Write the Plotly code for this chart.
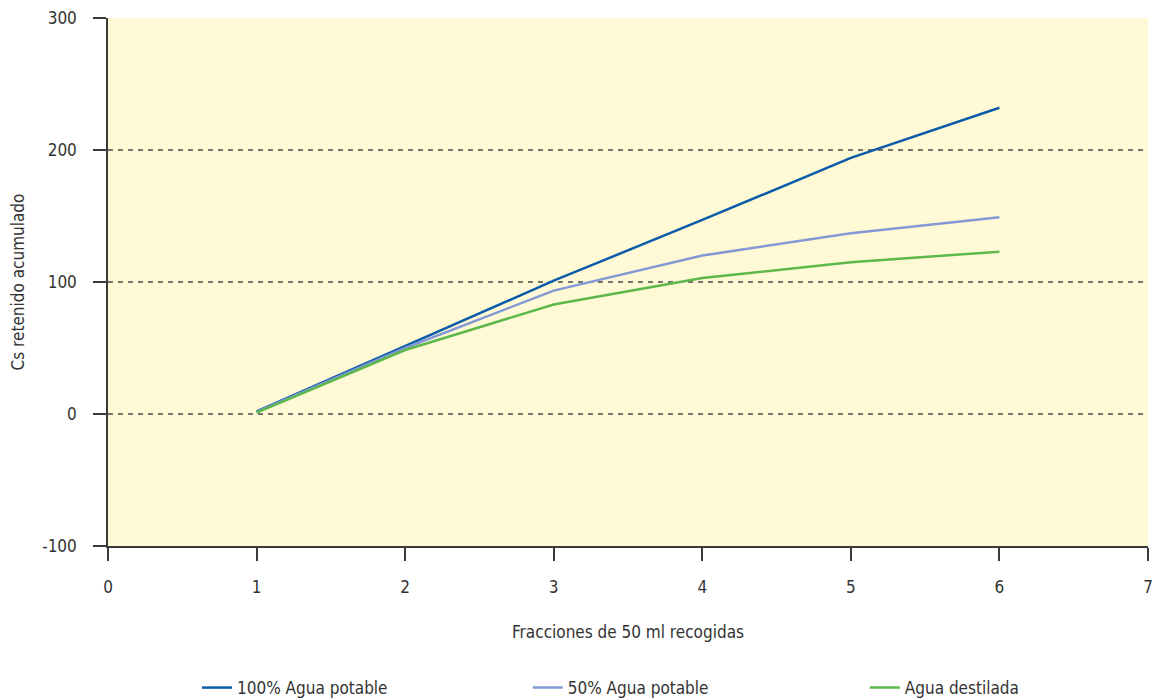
import plotly.graph_objects as go

fracciones = [1, 2, 3, 4, 5, 6]
agua_100 = [2, 51.5, 101, 147, 194, 232]
agua_50 = [1.5, 50, 93.5, 120, 137, 149]
agua_dest = [1, 48.5, 83, 103, 115, 123]

series_names = ["100% Agua potable", "50% Agua potable", "Agua destilada"]
series_colors = ["#0b5ca8", "#8299d4", "#5cb84a"]

y_ticks = [-100, 0, 100, 200, 300]
y_tick_text = ["-100", "0", "100", "200", "300"]
x_ticks = [0, 1, 2, 3, 4, 5, 6, 7]
grid_values = [0, 100, 200]

FONT = "DejaVu Sans Condensed, Liberation Sans Narrow, Arial Narrow, sans-serif"
AXC = "#3a3a3a"
TXT = "#333333"

legend_ids = ["legend", "legend2", "legend3"]
legend_x = [0.0856, 0.4036, 0.7277]

fig = go.Figure()
for name, vals, col, lid in zip(series_names, [agua_100, agua_50, agua_dest], series_colors, legend_ids):
    fig.add_trace(go.Scatter(x=fracciones, y=vals, mode="lines", name=name,
                             line=dict(color=col, width=2.5), legend=lid))

for g in grid_values:
    fig.add_shape(type="line", xref="paper", x0=0, x1=1, yref="y", y0=g, y1=g,
                  line=dict(color="#4a4a4a", width=1.4, dash="5px,5px"), layer="below")

leg_common = dict(orientation="h", xanchor="left", y=-0.269, yanchor="middle",
                  bgcolor="rgba(0,0,0,0)", font=dict(family=FONT, size=17, color=TXT))

fig.update_layout(
    width=1155, height=692,
    margin=dict(l=100, r=15, t=10, b=154, autoexpand=False),
    paper_bgcolor="white",
    plot_bgcolor="#fff9d6",
    font=dict(family=FONT, size=17, color=TXT),
    showlegend=True,
    legend=dict(x=legend_x[0], **leg_common),
    legend2=dict(x=legend_x[1], **leg_common),
    legend3=dict(x=legend_x[2], **leg_common),
    xaxis=dict(range=[0, 7], tickvals=x_ticks, showgrid=False, zeroline=False,
               showline=True, linecolor=AXC, linewidth=1.5, automargin=False,
               ticks="outside", ticklen=13, tickwidth=1.5, tickcolor=AXC,
               ticklabelstandoff=12, ticklabeloverflow="allow",
               title=dict(text="Fracciones de 50 ml recogidas", standoff=30,
                          font=dict(family=FONT, size=17))),
    yaxis=dict(range=[-100, 300], tickvals=y_ticks, ticktext=y_tick_text,
               showgrid=False, zeroline=False, automargin=False,
               showline=True, linecolor=AXC, linewidth=1.5,
               ticks="outside", ticklen=13, tickwidth=1.5, tickcolor=AXC,
               ticklabelstandoff=13, ticklabeloverflow="allow",
               title=dict(text="Cs retenido acumulado", standoff=15,
                          font=dict(family=FONT, size=17))),
)

fig.write_html("out.html")
